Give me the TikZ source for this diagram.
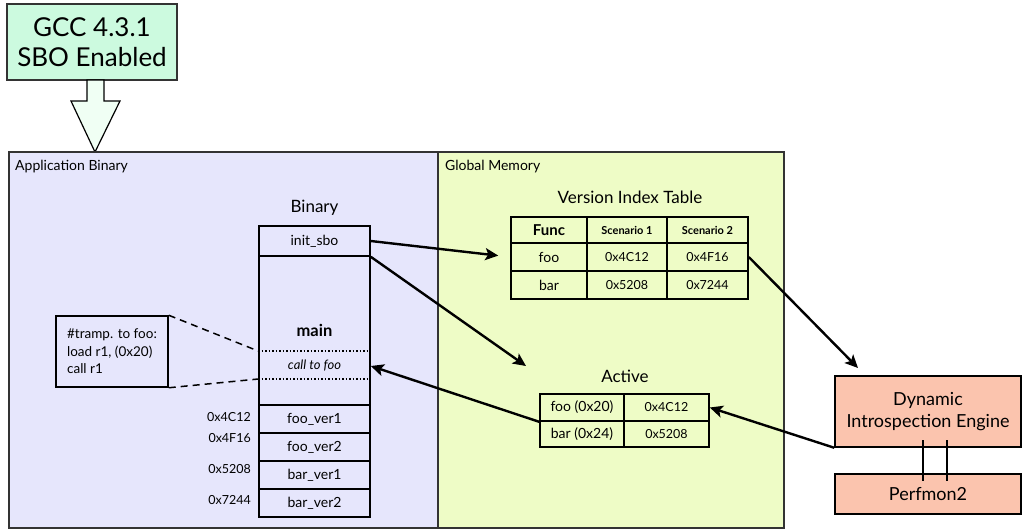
\documentclass[tikz,border=0pt]{standalone}
\usepackage{fontspec}
\setmainfont{Lato}
\usetikzlibrary{arrows.meta}
\definecolor{gccfill}{HTML}{CCFADF}
\definecolor{hollowfill}{HTML}{F0FFF4}
\definecolor{appfill}{HTML}{E6E6FC}
\definecolor{memfill}{HTML}{EEFCC6}
\definecolor{diefill}{HTML}{FBC4AE}
\tikzset{
  region/.style={draw=black!80, line width=1.5pt, inner sep=0pt},
  cell/.style={draw=black, line width=1.6pt, minimum width=#1, inner sep=0pt, font=\fontsize{14}{16}\selectfont},
  hexcell/.style={cell=#1, font=\fontsize{12.5}{14}\selectfont},
  hdr/.style={font=\bfseries\fontsize{11}{13}\selectfont},
  title/.style={font=\fontsize{17}{20}\selectfont},
  addr/.style={anchor=east, inner sep=0pt, font=\fontsize{12.5}{14}\selectfont},
  flow/.style={line width=2.4pt, -{Stealth[length=13pt,width=12pt,inset=3pt]}},
  engine/.style={draw=black, line width=1.5pt, fill=diefill, inner sep=0pt, font=\fontsize{18}{22}\selectfont, align=center},
}
\begin{document}
\begin{tikzpicture}[x=1pt,y=-1pt]
\useasboundingbox (0,0) rectangle (1023,531);

% compiler box and hollow arrow
\node[region, fill=gccfill, minimum width=170pt, minimum height=76pt, align=center,
  font=\fontsize{26}{30}\selectfont] (gcc) at (92,42) {GCC 4.3.1\\SBO Enabled};
\draw[line width=1.2pt, fill=hollowfill]
  (87,80) -- (87,101) -- (71,101) -- (95,152) -- (120,101) -- (104,101) -- (104,80) -- cycle;

% regions
\node[region, fill=appfill, minimum width=429pt, minimum height=376pt] (app) at (223.5,340) {};
\node[region, fill=memfill, minimum width=346pt, minimum height=376pt] (mem) at (611,340) {};
\node[anchor=north west, inner sep=0pt, font=\fontsize{14}{16}\selectfont] (applbl) at (15,160) {Application Binary};
\node[anchor=north west, inner sep=0pt, font=\fontsize{14}{16}\selectfont] (memlbl) at (445,160) {Global Memory};

% binary layout
\node[title] (bintitle) at (314.5,208) {Binary};
\node[cell=111pt, minimum height=30pt] (init) at (314.5,241) {init\_sbo};
\node[cell=111pt, minimum height=149pt] (mainblk) at (314.5,330.5) {};
\node[font=\bfseries\fontsize{16.5}{18}\selectfont] (mainlbl) at (314.5,330) {main};
\node[font=\itshape\fontsize{13}{15}\selectfont] (callfoo) at (314.5,366) {call to foo};
\coordinate (dl1) at (mainblk.west |- 0,351);
\coordinate (dr1) at (mainblk.east |- 0,351);
\coordinate (dl2) at (mainblk.west |- 0,379);
\coordinate (dr2) at (mainblk.east |- 0,379);
\draw[line width=1.5pt, dotted] (dl1) -- (dr1);
\draw[line width=1.5pt, dotted] (dl2) -- (dr2);
\node[cell=111pt, minimum height=28pt] (fv1) at (314.5,419) {foo\_ver1};
\node[cell=111pt, minimum height=28pt] (fv2) at (314.5,447) {foo\_ver2};
\node[cell=111pt, minimum height=28pt] (bv1) at (314.5,475) {bar\_ver1};
\node[cell=111pt, minimum height=28pt] (bv2) at (314.5,503) {bar\_ver2};
\node[addr] (a1) at (251,417) {0x4C12};
\node[addr] (a2) at (251,438) {0x4F16};
\node[addr] (a3) at (251,469) {0x5208};
\node[addr] (a4) at (251,500) {0x7244};

% trampoline
\node[draw=black, line width=1.5pt, minimum width=112pt, minimum height=71pt, align=left,
  inner sep=4pt, font=\fontsize{13.5}{17.5}\selectfont] (tramp) at (112,351.5)
  {\#tramp. to foo:\\load r1, (0x20)\\call r1};
\draw[line width=1.5pt, dashed, dash pattern=on 7pt off 5pt] (tramp.north east) -- (dl1);
\draw[line width=1.5pt, dashed, dash pattern=on 7pt off 5pt] (tramp.south east) -- (dl2);

% version index table
\node[title] (vttitle) at (630,197) {Version Index Table};
\node[cell=76pt, minimum height=26pt, font=\bfseries\fontsize{15}{17}\selectfont] (vh1) at (549,230) {Func};
\node[cell=80pt, minimum height=26pt, hdr] (vh2) at (627,230) {Scenario 1};
\node[cell=81pt, minimum height=26pt, hdr] (vh3) at (707.5,230) {Scenario 2};
\node[cell=76pt, minimum height=28pt] (vf1) at (549,257) {foo};
\node[hexcell=80pt, minimum height=28pt] (vf2) at (627,257) {0x4C12};
\node[hexcell=81pt, minimum height=28pt] (vf3) at (707.5,257) {0x4F16};
\node[cell=76pt, minimum height=28pt] (vb1) at (549,285) {bar};
\node[hexcell=80pt, minimum height=28pt] (vb2) at (627,285) {0x5208};
\node[hexcell=81pt, minimum height=28pt] (vb3) at (707.5,285) {0x7244};

% active table
\node[title] (acttitle) at (625,376) {Active};
\node[cell=84pt, minimum height=27pt] (af1) at (582,407.5) {foo (0x20)};
\node[hexcell=85pt, minimum height=27pt] (af2) at (666.5,407.5) {0x4C12};
\node[cell=84pt, minimum height=26pt] (ab1) at (582,434) {bar (0x24)};
\node[hexcell=85pt, minimum height=26pt] (ab2) at (666.5,434) {0x5208};

% engine and perfmon
\node[engine, minimum width=186pt, minimum height=71pt] (die) at (928,411.5) {Dynamic\\Introspection Engine};
\node[engine, minimum width=186pt, minimum height=40pt] (pm) at (928,494) {Perfmon2};
\coordinate (l1t) at (923,440);
\coordinate (l1b) at (923,481);
\coordinate (l2t) at (947,440);
\coordinate (l2b) at (947,481);
\draw[line width=2.4pt] (l1t) -- (l1b);
\draw[line width=2.4pt] (l2t) -- (l2b);

% connectors
\coordinate (acttip) at (526,366);
\coordinate (dietip) at (858,368);
\draw[flow, shorten >=12pt] (init.east) -- (vf1.west);
\draw[flow] (init.south east) -- (acttip);
\draw[flow] (af1.south west) -- (mainblk.east |- callfoo);
\draw[flow] (vf3.east) -- (dietip);
\draw[flow] (die.south west) -- (af2.east);
\end{tikzpicture}
\end{document}
